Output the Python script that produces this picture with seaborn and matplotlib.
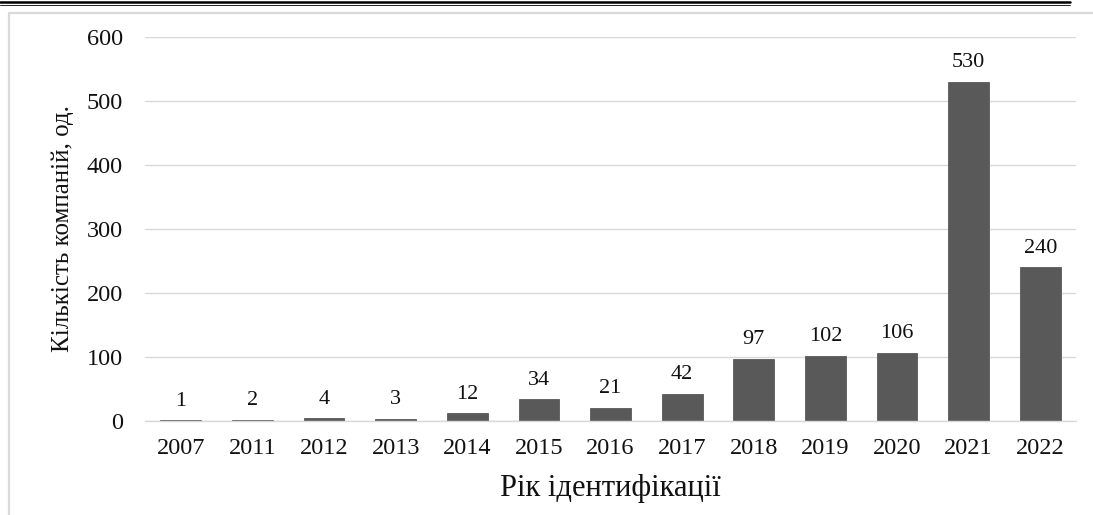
import matplotlib
matplotlib.use("Agg")
import matplotlib.pyplot as plt
import seaborn as sns
import pandas as pd
from matplotlib.lines import Line2D

years = ["2007", "2011", "2012", "2013", "2014", "2015", "2016",
         "2017", "2018", "2019", "2020", "2021", "2022"]
companies = [1, 2, 4, 3, 12, 34, 21, 42, 97, 102, 106, 530, 240]
y_ticks = [0, 100, 200, 300, 400, 500, 600]

x_title = "Рік ідентифікації"
y_title = "Кількість компаній, од."

sns.set_theme(style="whitegrid")
plt.rcParams["font.family"] = ["Liberation Serif", "DejaVu Serif"]

df = pd.DataFrame({"year": years, "count": companies})

fig = plt.figure(figsize=(10.93, 5.15), dpi=100)
ax = fig.add_axes([0.1327, 0.1825, 0.8518, 0.7457])

sns.barplot(data=df, x="year", y="count", color="#595959", width=0.57,
            saturation=1, edgecolor="#595959", linewidth=0.6, ax=ax)

ax.set_ylim(0, 600)
ax.set_yticks(y_ticks)
ax.set_xlim(-0.5, len(years) - 0.5)
ax.grid(axis="y", color="#d9d9d9", linewidth=1)
ax.grid(axis="x", visible=False)
ax.set_axisbelow(True)
for s in ["left", "right", "top"]:
    ax.spines[s].set_visible(False)
ax.spines["bottom"].set_color("#d9d9d9")
ax.spines["bottom"].set_linewidth(1)

ax.tick_params(axis="x", length=0, pad=12, labelsize=17.5, labelcolor="#111111")
ax.tick_params(axis="y", length=0, pad=16, labelsize=17.5, labelcolor="#111111")

ax.bar_label(ax.containers[0], padding=7, fontsize=16, color="#111111")

ax.set_xlabel(x_title, fontsize=22, color="#111111")
ax.set_ylabel(y_title, fontsize=18, color="#111111")
ax.xaxis.set_label_coords(0.5, -0.137)
ax.yaxis.set_label_coords(-0.076, 0.5)

# page decorations: double rule on top and light frame
fig.add_artist(Line2D([0, 0.979], [0.9955, 0.9955], color="black", linewidth=1.8))
fig.add_artist(Line2D([0, 0.979], [0.9912, 0.9912], color="black", linewidth=0.6))
fig.add_artist(Line2D([0.0082, 1], [0.9748, 0.9748], color="#d9d9d9", linewidth=1.6))
fig.add_artist(Line2D([0.0082, 0.0082], [0, 0.9748], color="#d9d9d9", linewidth=1.6))

fig.savefig("out.png", dpi=100)
